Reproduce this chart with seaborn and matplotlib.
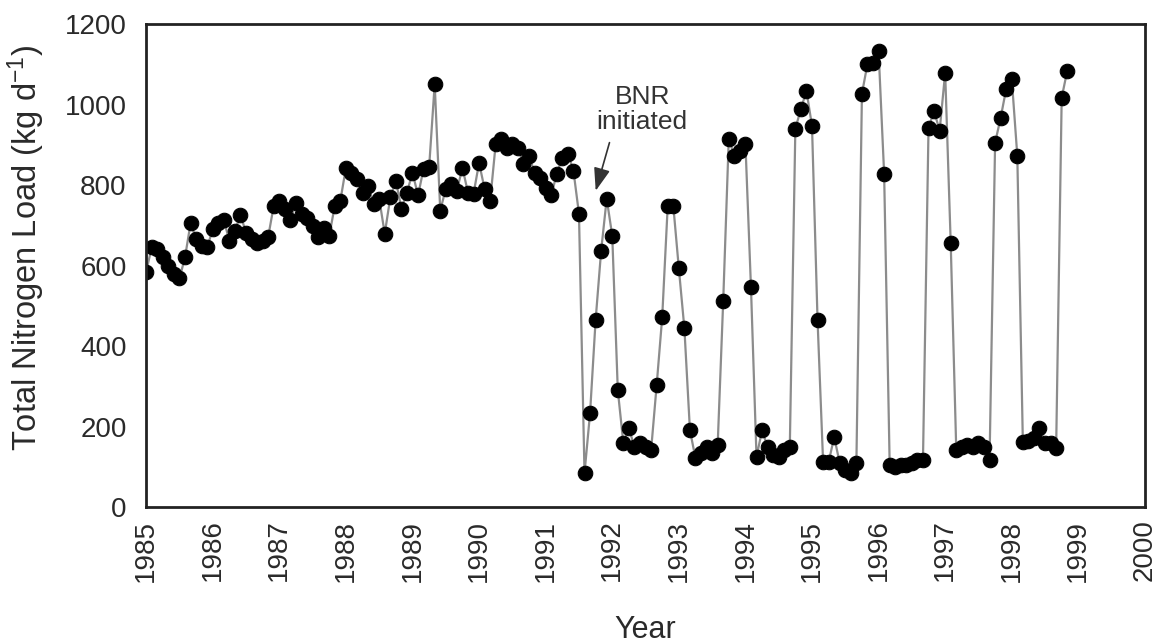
import numpy as np
import pandas as pd
import matplotlib
matplotlib.use("Agg")
import matplotlib.pyplot as plt
import seaborn as sns

# monthly total nitrogen load (kg/d)
y1985 = [585, 645, 642, 620, 600, 580, 568, 620, 705, 667, 648, 645]
y1986 = [690, 705, 712, 662, 687, 725, 682, 665, 655, 660, 672, 749]
y1987 = [761, 740, 712, 756, 729, 719, 699, 670, 694, 674, 749, 761]
y1988 = [843, 830, 816, 781, 798, 754, 766, 679, 769, 811, 741, 781]
y1989 = [831, 774, 841, 845, 1051, 736, 791, 803, 786, 843, 781, 778]
y1990 = [855, 790, 761, 903, 915, 893, 903, 893, 853, 873, 831, 818]
y1991 = [793, 774, 828, 868, 878, 836, 729, 84, 233, 464, 637, 766]
y1992 = [674, 290, 159, 196, 149, 159, 150, 141, 302, 471, 749, 749]
y1993 = [593, 444, 191, 121, 134, 149, 134, 154, 513, 915, 873, 885]
y1994 = [903, 546, 124, 191, 149, 130, 124, 141, 149, 940, 989, 1034]
y1995 = [947, 464, 112, 112, 174, 109, 92, 85, 109, 1027, 1101, 1103]
y1996 = [1133, 828, 104, 99, 104, 104, 110, 117, 117, 942, 984, 935]
y1997 = [1079, 655, 141, 149, 154, 150, 159, 149, 117, 905, 967, 1039]
y1998 = [1064, 873, 161, 165, 171, 196, 159, 160, 146, 1017, 1084]

loads = (y1985 + y1986 + y1987 + y1988 + y1989 + y1990 + y1991 + y1992
         + y1993 + y1994 + y1995 + y1996 + y1997 + y1998)
years = list(range(1985, 2001))

df = pd.DataFrame({"year": 1985 + np.arange(len(loads)) / 12.0, "load": loads})

sns.set_style("white")
plt.rcParams["font.family"] = ["Liberation Sans", "DejaVu Sans"]
plt.rcParams["mathtext.default"] = "regular"

fig = plt.figure(figsize=(11.6, 6.44), dpi=100)
ax = fig.add_axes([0.126, 0.2127, 0.861, 0.75])

sns.lineplot(data=df, x="year", y="load", ax=ax, sort=False, color="#8c8c8c",
             linewidth=1.6, marker="o", markersize=10.5,
             markerfacecolor="black", markeredgecolor="black")

ax.set_xlim(1985, 2000)
ax.set_ylim(0, 1200)
ax.set_xticks(years)
ax.set_xticklabels([str(y) for y in years], rotation=90, fontsize=20)
ax.set_yticks(range(0, 1201, 200))
ax.tick_params(direction="in", length=8, width=1.5, colors="black",
               labelcolor="#2a2a2a")
ax.tick_params(axis="y", labelsize=20, pad=14)
ax.tick_params(axis="x", pad=9)
for s in ax.spines.values():
    s.set_linewidth(2)
    s.set_color("#222222")

ax.set_xlabel("Year", fontsize=22, labelpad=24, color="#2a2a2a")
ax.set_ylabel("Total Nitrogen Load (kg d$^{-1}$)", fontsize=23.5, color="#2a2a2a")
ax.yaxis.set_label_coords(-0.099, 0.536)

ax.annotate("", xy=(1991.74, 779), xytext=(1991.97, 912),
            arrowprops=dict(arrowstyle="-|>,head_length=1.4,head_width=0.5",
                            color="#333333", lw=1.2))
ax.text(1992.45, 987, "BNR\ninitiated", ha="center", va="center",
        fontsize=19, color="#333333", linespacing=1.05)

fig.savefig("out.png", dpi=100)
